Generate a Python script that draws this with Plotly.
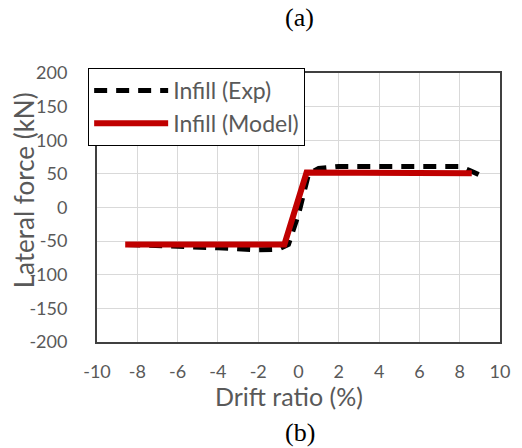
import plotly.graph_objects as go

exp_x = [-8.5, -6.0, -4.0, -2.0, -1.0, -0.5, 0.0, 0.5, 1.0, 2.0, 4.0, 6.0, 8.0, 8.5, 9.3]
exp_y = [-55, -57, -60, -63, -62, -55, -10, 50, 58, 61, 61, 61, 61, 55, 44]
mod_x = [-8.6, -0.7, 0.4, 8.0, 8.6]
mod_y = [-55, -55, 52, 53, 51]

x_ticks = [-10, -8, -6, -4, -2, 0, 2, 4, 6, 8, 10]
y_ticks = [-200, -150, -100, -50, 0, 50, 100, 150, 200]

txt = "#595959"
W, H = 522, 448
L, R, T, B = 97, 15, 73, 106
PW, PH = W - L - R, H - T - B

def px_x(p):
    return (p - L) / PW

def px_y(p):
    return (H - B - p) / PH

fig = go.Figure()
fig.add_trace(go.Scatter(x=exp_x, y=exp_y, mode="lines", name="Infill (Exp)",
                         line=dict(color="black", width=5, dash="13px,9px"), legendgroup="a"))
fig.add_trace(go.Scatter(x=mod_x, y=mod_y, mode="lines", name="Infill (Model)",
                         line=dict(color="#c00000", width=6), legendgroup="b"))

fig.update_layout(
    width=W, height=H,
    margin=dict(l=L, r=R, t=T, b=B),
    paper_bgcolor="white", plot_bgcolor="white",
    font=dict(family="Lato", color=txt),
    showlegend=True,
    legend=dict(x=px_x(88), y=px_y(68), xanchor="left", yanchor="top",
                bgcolor="white", bordercolor="black", borderwidth=1,
                font=dict(size=23, color=txt), itemwidth=74,
                tracegroupgap=0),
    xaxis=dict(range=[-10, 10], tickvals=x_ticks, ticktext=[str(v) for v in x_ticks],
               showgrid=True, gridcolor="#d9d9d9", gridwidth=1, zeroline=False,
               showline=True, mirror=True, linecolor="#404040", linewidth=2,
               tickfont=dict(size=18, color=txt), ticklabelstandoff=12),
    yaxis=dict(range=[-200, 200], tickvals=y_ticks, ticktext=[str(v) for v in y_ticks],
               showgrid=True, gridcolor="#d9d9d9", gridwidth=1, zeroline=False,
               showline=True, mirror=True, linecolor="#404040", linewidth=2,
               tickfont=dict(size=18, color=txt), ticklabelstandoff=24),
    annotations=[
        dict(text="(a)", x=px_x(303), y=px_y(17), xref="paper", yref="paper",
             showarrow=False, yanchor="middle",
             font=dict(family="Liberation Serif", size=26, color="black")),
        dict(text="(b)", x=px_x(304), y=px_y(433), xref="paper", yref="paper",
             showarrow=False, yanchor="middle",
             font=dict(family="Liberation Serif", size=26, color="black")),
        dict(text="Drift ratio (%)", x=px_x(292), y=px_y(396), xref="paper", yref="paper",
             showarrow=False, yanchor="middle",
             font=dict(size=25, color=txt)),
        dict(text="Lateral force (kN)", x=px_x(23), y=px_y(190), xref="paper", yref="paper",
             showarrow=False, textangle=-90, xanchor="center", yanchor="middle",
             font=dict(size=26, color=txt)),
    ],
)
fig.write_html("out.html")
